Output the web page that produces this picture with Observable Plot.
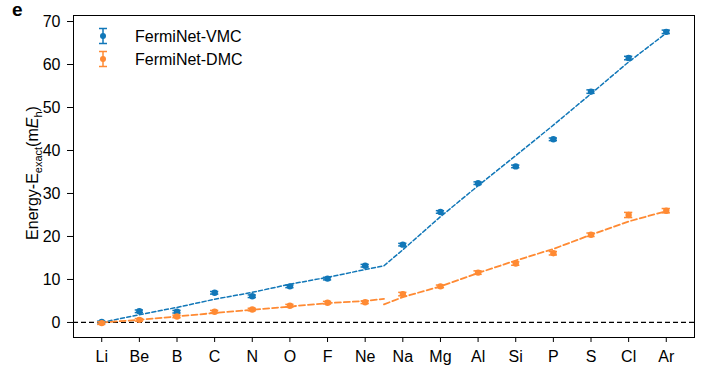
<!DOCTYPE html>
<html>
<head>
<meta charset="utf-8">
<script src="https://cdn.jsdelivr.net/npm/d3@7"></script>
<script src="https://cdn.jsdelivr.net/npm/@observablehq/plot@0.6"></script>
<style>
  html, body { margin: 0; padding: 0; background: #fff; }
  #chart { position: relative; width: 702px; height: 373px; }
</style>
</head>
<body>
<div id="chart"></div>
<script>
// ---- data ----
const elements = ["Li","Be","B","C","N","O","F","Ne","Na","Mg","Al","Si","P","S","Cl","Ar"];
const vmc    = [0.1, 2.6, 2.5, 6.9, 6.1, 8.4, 10.2, 13.2, 18.1, 25.7, 32.4, 36.3, 42.6, 53.7, 61.5, 67.6];
const vmcErr = [0.2, 0.3, 0.3, 0.3, 0.3, 0.3, 0.3, 0.3, 0.3, 0.3, 0.3, 0.3, 0.3, 0.4, 0.4, 0.4];
const dmc    = [-0.15, 0.6, 1.4, 2.5, 3.0, 3.9, 4.6, 4.7, 6.6, 8.4, 11.6, 13.7, 16.1, 20.4, 25.0, 26.0];
const dmcErr = [0.3, 0.3, 0.3, 0.3, 0.3, 0.3, 0.3, 0.3, 0.4, 0.3, 0.4, 0.4, 0.4, 0.4, 0.6, 0.5];

// dashed fit segments (x = element index)
const fitX1      = [0, 1, 2, 3, 4, 5, 6, 7, 7.5];
const vmcFit1    = [0, 1.8, 3.5, 5.4, 7.0, 8.9, 10.5, 12.3, 13.2];
const dmcFit1    = [0, 0.6, 1.4, 2.2, 2.95, 3.7, 4.5, 5.0, 5.5];
const fitX2      = [7.5, 8, 9, 10, 11, 12, 13, 14, 15];
const vmcFit2    = [13.2, 16.9, 24.6, 31.8, 38.8, 45.9, 53.2, 60.6, 67.3];
const dmcFit2    = [4.2, 5.9, 8.4, 11.5, 14.4, 17.1, 20.4, 23.5, 25.9];

const yTicks = [0, 10, 20, 30, 40, 50, 60, 70];
const seriesNames = ["FermiNet-VMC", "FermiNet-DMC"];

// ---- styles ----
const BLUE = "#1177b8";
const ORANGE = "#ff8a33";
const FONT = "'Liberation Sans', Arial, Helvetica, sans-serif";

const idx = elements.map((_, i) => i);
const vmcRows = idx.map(i => ({i, v: vmc[i], e: vmcErr[i]}));
const dmcRows = idx.map(i => ({i, v: dmc[i], e: dmcErr[i]}));
const seg = (xs, ys) => xs.map((x, k) => ({x, y: ys[k]}));
const capHalf = 0.11;

function errMarks(rows, color) {
  return [
    Plot.ruleX(rows, {x: "i", y1: d => d.v - d.e, y2: d => d.v + d.e, stroke: color, strokeWidth: 1.5}),
    Plot.ruleY(rows, {y: d => d.v - d.e, x1: d => d.i - capHalf, x2: d => d.i + capHalf, stroke: color, strokeWidth: 1.5}),
    Plot.ruleY(rows, {y: d => d.v + d.e, x1: d => d.i - capHalf, x2: d => d.i + capHalf, stroke: color, strokeWidth: 1.5}),
    Plot.dot(rows, {x: "i", y: "v", r: 3.2, fill: color, stroke: null})
  ];
}

const chart = Plot.plot({
  width: 702,
  height: 373,
  marginLeft: 73,
  marginRight: 8,
  marginTop: 15,
  marginBottom: 36,
  style: {fontFamily: FONT, fontSize: "16px", color: "black", background: "white"},
  x: {domain: [-0.75, 15.75], axis: null},
  y: {domain: [-3.5, 71.4], axis: null},
  marks: [
    Plot.ruleY([0], {stroke: "black", strokeWidth: 1.3, strokeDasharray: "5,3"}),
    Plot.line(seg(fitX1, vmcFit1), {x: "x", y: "y", stroke: BLUE, strokeWidth: 1.5, strokeDasharray: "4,2.4"}),
    Plot.line(seg(fitX2, vmcFit2), {x: "x", y: "y", stroke: BLUE, strokeWidth: 1.5, strokeDasharray: "4,2.4"}),
    Plot.line(seg(fitX1, dmcFit1), {x: "x", y: "y", stroke: ORANGE, strokeWidth: 1.8, strokeDasharray: "6,3"}),
    Plot.line(seg(fitX2, dmcFit2), {x: "x", y: "y", stroke: ORANGE, strokeWidth: 1.8, strokeDasharray: "6,3"}),
    ...errMarks(vmcRows, BLUE),
    ...errMarks(dmcRows, ORANGE),
    Plot.axisX({ticks: idx, tickFormat: i => elements[i], tickSize: 5, tickPadding: 8, label: null, fontSize: 16}),
    Plot.axisY({ticks: yTicks, tickSize: 6, tickPadding: 7, label: null, fontSize: 16}),
    Plot.frame({stroke: "black", strokeWidth: 1})
  ]
});

document.getElementById("chart").appendChild(chart);

// ---- annotations: panel letter, y label, legend ----
const svg = d3.select(chart);

svg.append("text")
  .attr("x", 12).attr("y", 15.5)
  .attr("text-anchor", "start")
  .attr("font-family", FONT).attr("font-size", 19).attr("font-weight", "bold")
  .text("e");

const yl = svg.append("text")
  .attr("transform", "translate(38,173) rotate(-90)")
  .attr("text-anchor", "middle")
  .attr("font-family", FONT).attr("font-size", 16)
  .attr("fill", "black");
yl.append("tspan").text("Energy-E");
yl.append("tspan").attr("font-size", 11).attr("dy", 4).text("exact");
yl.append("tspan").attr("dy", -4).text("(m");
yl.append("tspan").attr("font-style", "italic").text("E");
yl.append("tspan").attr("font-size", 11).attr("dy", 4).text("h");
yl.append("tspan").attr("dy", -4).text(")");

const legendItems = [
  {name: seriesNames[0], color: BLUE, y: 36},
  {name: seriesNames[1], color: ORANGE, y: 59}
];
const lg = svg.append("g");
legendItems.forEach(it => {
  const g = lg.append("g").attr("transform", `translate(103,${it.y})`);
  g.append("line").attr("x1", 0).attr("x2", 0).attr("y1", -7.5).attr("y2", 7.5).attr("stroke", it.color).attr("stroke-width", 1.5);
  g.append("line").attr("x1", -4).attr("x2", 4).attr("y1", -7.5).attr("y2", -7.5).attr("stroke", it.color).attr("stroke-width", 1.5);
  g.append("line").attr("x1", -4).attr("x2", 4).attr("y1", 7.5).attr("y2", 7.5).attr("stroke", it.color).attr("stroke-width", 1.5);
  g.append("circle").attr("r", 3).attr("fill", it.color);
  g.append("text").attr("x", 32).attr("y", 6)
    .attr("text-anchor", "start")
    .attr("font-family", FONT).attr("font-size", 16).attr("fill", "black")
    .text(it.name);
});
</script>
</body>
</html>
